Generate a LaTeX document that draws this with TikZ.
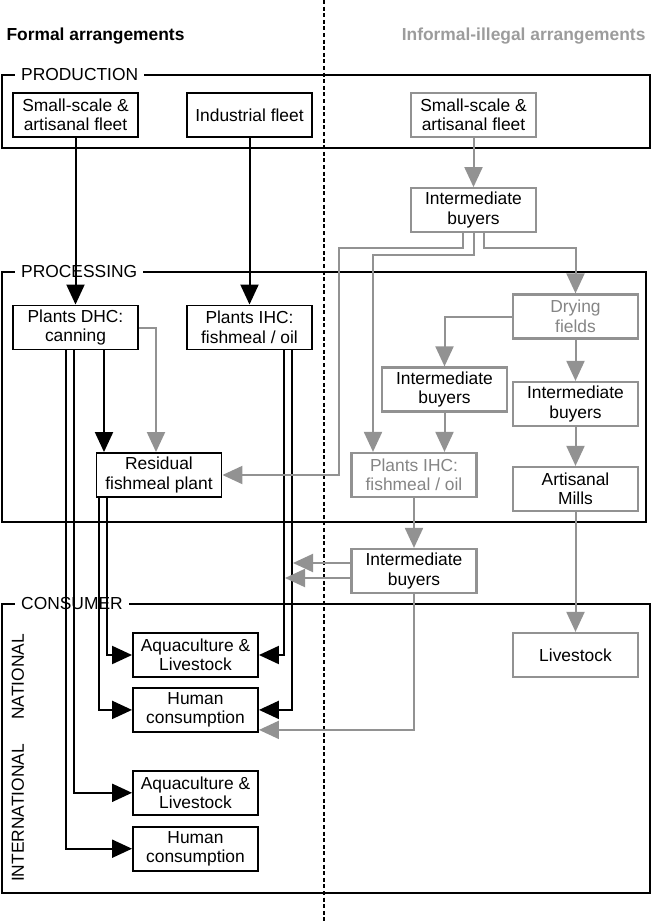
\documentclass[tikz,border=0pt]{standalone}
\usepackage{fontspec}
\setmainfont{Liberation Sans}
\usepackage{xcolor}
\usepackage{tikz}
\usetikzlibrary{positioning, arrows.meta}
\definecolor{InfGray}{HTML}{929292}
\definecolor{InfText}{HTML}{858585}
\definecolor{HeadGray}{HTML}{9C9C9C}

\begin{document}
\begin{tikzpicture}[
  x=1pt, y=-1pt,
  font=\fontsize{17.4}{19.5}\selectfont,
  head/.style={font=\fontsize{17.4}{19.5}\selectfont\bfseries},
  box/.style={draw, line width=1.9pt, align=center, minimum height=44pt, minimum width=125pt, inner sep=2pt},
  gbox/.style={box, draw=InfGray, line width=2.2pt},
  frame/.style={line width=2.5pt},
  tag/.style={fill=white, inner xsep=6pt, inner ysep=1pt, anchor=west},
  arr/.style={-{Triangle[length=20pt, width=18pt]}, line width=2pt},
  garr/.style={arr, color=InfGray}
]
\useasboundingbox (0,0) rectangle (651,921);
\node[head, anchor=west] (formal) at (3,36) {Formal arrangements};
\node[head, anchor=east, text=HeadGray] (informal) at (649,36) {Informal-illegal arrangements};
% frames
\draw[frame] (2,75) rectangle (650,148);
\draw[frame] (2,272) rectangle (646,522);
\draw[frame] (2,604) rectangle (650,893);
\node[tag] (prodtag) at (15,75) {PRODUCTION};
\node[tag] (proctag) at (15,272) {PROCESSING};
\node[tag] (constag) at (15,604) {CONSUMER};
\draw[line width=2.3pt, dash pattern=on 4pt off 2.6pt] (324,0) -- (324,921);
% formal
\node[box] (sfleet) at (75.5,115) {Small-scale \&\\artisanal fleet};
\node[box] (ifleet) at (249.5,115) {Industrial fleet};
\node[box] (dhc) at (75.5,327.5) {Plants DHC:\\canning};
\node[box] (ihc) at (249.5,327.5) {Plants IHC:\\fishmeal / oil};
\node[box] (resid) at (159,475) {Residual\\fishmeal plant};
\node[box] (naqua) at (195.5,655) {Aquaculture \&\\Livestock};
\node[box, below=9pt of naqua] (nhum) {Human\\consumption};
\node[box, below=37pt of nhum] (iaqua) {Aquaculture \&\\Livestock};
\node[box, below=10pt of iaqua] (ihum) {Human\\consumption};
\node[rotate=90] (natl) at (18,677) {NATIONAL};
\node[rotate=90] (intl) at (18,813) {INTERNATIONAL};
% informal
\node[gbox] (sinf) at (473.5,115) {Small-scale \&\\artisanal fleet};
\node[gbox, below=49pt of sinf] (buy1) {Intermediate\\buyers};
\node[gbox, text=InfText] (dry) at (575.5,316.5) {Drying\\fields};
\node[gbox] (buy2) at (444.5,389.5) {Intermediate\\buyers};
\node[gbox] (buy3) at (575.5,404) {Intermediate\\buyers};
\node[gbox, text=InfText] (ihcinf) at (414,475) {Plants IHC:\\fishmeal / oil};
\node[gbox] (mills) at (575.5,489) {Artisanal\\Mills};
\node[gbox] (buy4) at (414,571) {Intermediate\\buyers};
\node[gbox] (stock) at (575.5,655) {Livestock};
\coordinate (outjoin) at (293,563);
\coordinate (injoin) at (285,578);
% formal flows
\draw[arr] (sfleet) -- (dhc);
\draw[arr] (ifleet) -- (ihc);
\draw[arr] ([xshift=28.5pt]dhc.south) -- ([xshift=-55pt]resid.north);
\draw[garr] (dhc.east) -| ([xshift=-3pt]resid.north);
\draw[arr] ([xshift=-9.5pt]dhc.south) |- (ihum.west);
\draw[arr] ([xshift=-1.5pt]dhc.south) |- (iaqua.west);
\draw[arr] ([xshift=-60pt]resid.south) |- (nhum.west);
\draw[arr] ([xshift=-52pt]resid.south) |- (naqua.west);
\draw[arr] ([xshift=34.5pt]ihc.south) |- (naqua.east);
\draw[arr] ([xshift=42.5pt]ihc.south) |- (nhum.east);
% informal flows
\draw[garr] (sinf) -- (buy1);
\draw[garr] ([xshift=-10.5pt]buy1.south) -- ++(0,15) -- ++(-124,0) |- (resid.east);
\draw[garr] (buy1.south) -- ++(0,22) -| ([xshift=-41pt]ihcinf.north);
\draw[garr] ([xshift=10pt]buy1.south) -- ++(0,15) -| (dry.north);
\draw[garr] (dry.west) -| (buy2.north);
\draw[garr] (dry) -- (buy3);
\draw[garr] (buy2.south) -- (buy2.south |- ihcinf.north);
\draw[garr] (buy3) -- (mills);
\draw[garr] (mills) -- (stock);
\draw[garr] (ihcinf) -- (buy4);
\draw[garr] ([yshift=8pt]buy4.west) -- (outjoin);
\draw[garr] ([yshift=-7pt]buy4.west) -- (injoin);
\draw[garr] (buy4.south) |- ([yshift=-20pt]nhum.east);
\end{tikzpicture}
\end{document}
